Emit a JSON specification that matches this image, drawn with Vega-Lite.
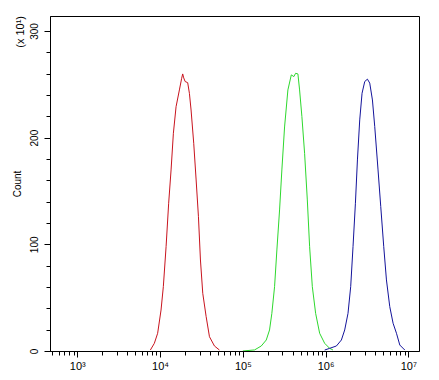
{
  "$schema": "https://vega.github.io/schema/vega-lite/v6.json",
  "width": 369,
  "height": 335,
  "autosize": "none",
  "padding": {"left": 50, "top": 16, "right": 20, "bottom": 29},
  "background": "white",
  "config": {
    "view": {"stroke": "black", "strokeWidth": 1},
    "font": "Liberation Sans",
    "axis": {
      "domainColor": "black",
      "tickColor": "black",
      "labelColor": "black",
      "titleColor": "black",
      "labelFont": "Liberation Sans",
      "titleFont": "Liberation Sans",
      "labelFontSize": 10,
      "titleFontSize": 10,
      "titleFontWeight": "normal",
      "grid": false
    }
  },
  "title": {
    "text": "(x 10¹)",
    "orient": "left",
    "anchor": "end",
    "fontSize": 11,
    "fontWeight": "normal",
    "font": "Liberation Sans",
    "color": "black",
    "offset": -14
  },
  "data": {
    "values": [
      {"sample": "red", "intensity": 7640, "count": 0.9},
      {"sample": "red", "intensity": 8530, "count": 7.2},
      {"sample": "red", "intensity": 9354, "count": 16.6},
      {"sample": "red", "intensity": 10280, "count": 38.4},
      {"sample": "red", "intensity": 10960, "count": 60.3},
      {"sample": "red", "intensity": 11830, "count": 97.8},
      {"sample": "red", "intensity": 12710, "count": 138.5},
      {"sample": "red", "intensity": 13590, "count": 169.7},
      {"sample": "red", "intensity": 14490, "count": 204.1},
      {"sample": "red", "intensity": 15620, "count": 229},
      {"sample": "red", "intensity": 17130, "count": 244.7},
      {"sample": "red", "intensity": 18250, "count": 255.6},
      {"sample": "red", "intensity": 18780, "count": 259.7},
      {"sample": "red", "intensity": 19320, "count": 256},
      {"sample": "red", "intensity": 20090, "count": 252.6},
      {"sample": "red", "intensity": 21580, "count": 251.5},
      {"sample": "red", "intensity": 22640, "count": 241.5},
      {"sample": "red", "intensity": 23710, "count": 225.9},
      {"sample": "red", "intensity": 25520, "count": 194.7},
      {"sample": "red", "intensity": 27290, "count": 160.3},
      {"sample": "red", "intensity": 29100, "count": 125.9},
      {"sample": "red", "intensity": 30770, "count": 85.3},
      {"sample": "red", "intensity": 32810, "count": 54.1},
      {"sample": "red", "intensity": 36060, "count": 32.2},
      {"sample": "red", "intensity": 39540, "count": 13.4},
      {"sample": "red", "intensity": 45430, "count": 4.7},
      {"sample": "red", "intensity": 52220, "count": 0.9},
      {"sample": "green", "intensity": 100000, "count": 0},
      {"sample": "green", "intensity": 138700, "count": 1},
      {"sample": "green", "intensity": 167100, "count": 4.7},
      {"sample": "green", "intensity": 192000, "count": 10.3},
      {"sample": "green", "intensity": 210400, "count": 19.7},
      {"sample": "green", "intensity": 224400, "count": 35.3},
      {"sample": "green", "intensity": 242000, "count": 60.3},
      {"sample": "green", "intensity": 258100, "count": 94.7},
      {"sample": "green", "intensity": 278100, "count": 132.2},
      {"sample": "green", "intensity": 296500, "count": 169.7},
      {"sample": "green", "intensity": 319700, "count": 210},
      {"sample": "green", "intensity": 350600, "count": 244.7},
      {"sample": "green", "intensity": 385500, "count": 258.8},
      {"sample": "green", "intensity": 414100, "count": 257.2},
      {"sample": "green", "intensity": 434300, "count": 260.3},
      {"sample": "green", "intensity": 463300, "count": 259.7},
      {"sample": "green", "intensity": 485500, "count": 244.7},
      {"sample": "green", "intensity": 517600, "count": 219.7},
      {"sample": "green", "intensity": 558200, "count": 185.3},
      {"sample": "green", "intensity": 602000, "count": 141.6},
      {"sample": "green", "intensity": 641800, "count": 97.8},
      {"sample": "green", "intensity": 691800, "count": 60.3},
      {"sample": "green", "intensity": 758600, "count": 35.3},
      {"sample": "green", "intensity": 848400, "count": 16.6},
      {"sample": "green", "intensity": 975400, "count": 7.2},
      {"sample": "green", "intensity": 1121000, "count": 2.5},
      {"sample": "green", "intensity": 1230000, "count": 0.9},
      {"sample": "blue", "intensity": 975400, "count": 0.9},
      {"sample": "blue", "intensity": 1121000, "count": 2.5},
      {"sample": "blue", "intensity": 1352000, "count": 4.7},
      {"sample": "blue", "intensity": 1553000, "count": 10.3},
      {"sample": "blue", "intensity": 1703000, "count": 19.7},
      {"sample": "blue", "intensity": 1867000, "count": 35.3},
      {"sample": "blue", "intensity": 2012000, "count": 60.3},
      {"sample": "blue", "intensity": 2147000, "count": 97.8},
      {"sample": "blue", "intensity": 2295000, "count": 138.5},
      {"sample": "blue", "intensity": 2427000, "count": 179.1},
      {"sample": "blue", "intensity": 2587000, "count": 216.6},
      {"sample": "blue", "intensity": 2760000, "count": 241.6},
      {"sample": "blue", "intensity": 2974000, "count": 252.6},
      {"sample": "blue", "intensity": 3206000, "count": 254.8},
      {"sample": "blue", "intensity": 3418000, "count": 251.1},
      {"sample": "blue", "intensity": 3684000, "count": 235.3},
      {"sample": "blue", "intensity": 3929000, "count": 210.3},
      {"sample": "blue", "intensity": 4307000, "count": 169.7},
      {"sample": "blue", "intensity": 4644000, "count": 135.3},
      {"sample": "blue", "intensity": 5047000, "count": 97.8},
      {"sample": "blue", "intensity": 5441000, "count": 66.6},
      {"sample": "blue", "intensity": 5966000, "count": 41.6},
      {"sample": "blue", "intensity": 6546000, "count": 26},
      {"sample": "blue", "intensity": 7194000, "count": 16.6},
      {"sample": "blue", "intensity": 7888000, "count": 5.6},
      {"sample": "blue", "intensity": 9064000, "count": 0.9}
    ]
  },
  "mark": {"type": "line", "strokeWidth": 1, "clip": true},
  "encoding": {
    "x": {
      "field": "intensity",
      "type": "quantitative",
      "scale": {"type": "log", "domain": [468, 13460000], "nice": false},
      "axis": {
        "title": null,
        "values": [500, 600, 700, 800, 900, 1000, 2000, 3000, 4000, 5000, 6000, 7000, 8000, 9000, 10000, 20000, 30000, 40000, 50000, 60000, 70000, 80000, 90000, 100000, 200000, 300000, 400000, 500000, 600000, 700000, 800000, 900000, 1000000, 2000000, 3000000, 4000000, 5000000, 6000000, 7000000, 8000000, 9000000, 10000000],
        "labelExpr": "indexof([1000,10000,100000,1000000,10000000], datum.value) >= 0 ? '10' + ['⁰','¹','²','³','⁴','⁵','⁶','⁷'][round(log(datum.value)/LN10)] : ''",
        "tickSize": {"condition": {"test": "indexof([1000,10000,100000,1000000,10000000], datum.value) >= 0", "value": 6}, "value": 4},
        "labelPadding": 3,
        "labelFontSize": 11,
        "labelFlush": false,
        "labelOverlap": false
      }
    },
    "y": {
      "field": "count",
      "type": "quantitative",
      "scale": {"domain": [0, 314], "nice": false},
      "axis": {
        "title": "Count",
        "values": [0, 20, 40, 60, 80, 100, 120, 140, 160, 180, 200, 220, 240, 260, 280, 300],
        "labelExpr": "datum.value % 100 == 0 ? datum.label : ''",
        "tickSize": {"condition": {"test": "datum.value % 100 == 0", "value": 6}, "value": 4},
        "labelAngle": -90,
        "labelAlign": "center",
        "labelBaseline": "bottom",
        "labelPadding": 5,
        "labelFlush": false,
        "labelOverlap": false,
        "titlePadding": 7
      }
    },
    "color": {
      "field": "sample",
      "type": "nominal",
      "scale": {"domain": ["red", "green", "blue"], "range": ["#c8141e", "#2ed82e", "#14149b"]},
      "legend": null
    }
  }
}
